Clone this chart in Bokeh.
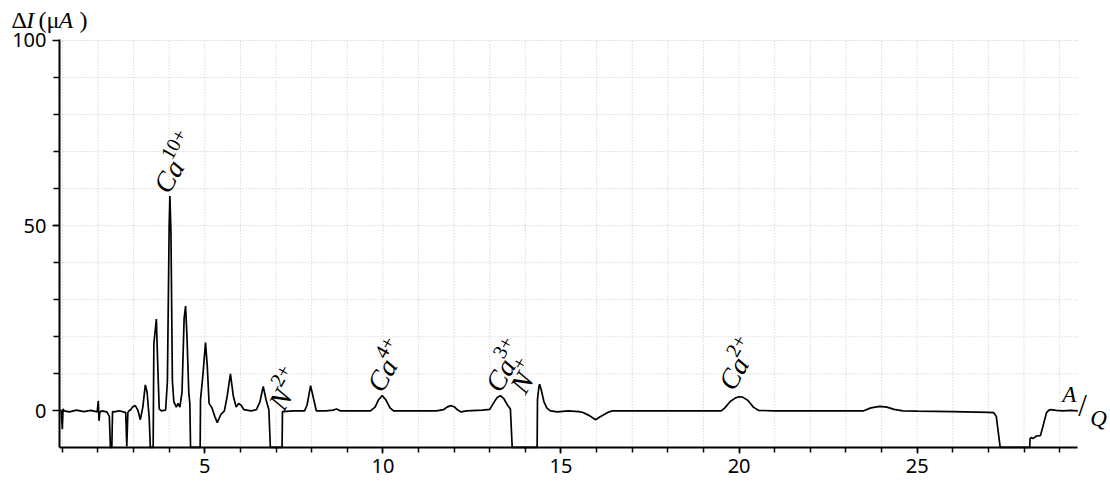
import numpy as np
from bokeh.plotting import figure
from bokeh.models import FixedTicker, Range1d, Label
from bokeh.core.properties import value
from bokeh.embed import file_html
from bokeh.resources import INLINE

# ---- data ----
aq = [
    0.93, 0.97, 1.00, 1.02, 1.05, 1.20, 1.40, 1.60, 1.80, 1.98,
    2.01, 2.03, 2.05, 2.10, 2.25, 2.32, 2.35, 2.39, 2.41, 2.45,
    2.60, 2.78, 2.81, 2.84, 2.87, 2.92, 2.97, 3.05, 3.12, 3.19,
    3.26, 3.33, 3.38, 3.44, 3.47, 3.55, 3.57, 3.64, 3.68, 3.72,
    3.78, 3.90, 3.95, 4.00, 4.02, 4.05, 4.09, 4.13, 4.20, 4.25,
    4.30, 4.36, 4.42, 4.46, 4.50, 4.55, 4.58, 4.60, 4.87, 4.88,
    4.95, 5.02, 5.07, 5.12, 5.20, 5.28, 5.35, 5.45, 5.55, 5.63,
    5.72, 5.80, 5.88, 5.95, 6.02, 6.10, 6.30, 6.45, 6.55, 6.64,
    6.72, 6.80, 6.84, 7.17, 7.18, 7.50, 7.80, 7.87, 7.97, 8.06,
    8.13, 8.40, 8.60, 8.70, 8.80, 9.20, 9.65, 9.78, 9.88, 9.98,
    10.08, 10.20, 10.30, 10.80, 11.50, 11.70, 11.80, 11.90, 12.00, 12.10,
    12.20, 12.35, 12.80, 13.00, 13.10, 13.20, 13.30, 13.40, 13.50, 13.58,
    13.63, 14.33, 14.34, 14.38, 14.40, 14.45, 14.52, 14.60, 14.70, 14.90,
    15.20, 15.50, 15.60, 15.80, 15.97, 16.10, 16.30, 16.45, 16.80, 17.50,
    18.20, 18.90, 19.50, 19.60, 19.75, 19.90, 20.00, 20.10, 20.25, 20.40,
    20.55, 21.00, 22.00, 23.00, 23.50, 23.70, 23.95, 24.15, 24.35, 24.60,
    25.00, 26.00, 27.00, 27.15, 27.22, 27.28, 27.33, 28.16, 28.17, 28.20,
    28.25, 28.35, 28.46, 28.55, 28.63, 28.70, 28.75, 28.90, 29.10, 29.30,
    29.51,
]
di = [
    0.3, 0.0, -5.0, 0.5, 0.0, -0.3, 0.2, -0.2, 0.1, -0.3,
    2.7, -2.7, -0.5, 0.0, -0.3, -1.5, -15, -15, -0.2, -0.3,
    0.0, -0.5, -9.6, -0.5, 0.0, 0.3, 1.0, 1.4, 0.2, -2.4,
    1.0, 7.0, 5.0, -2.0, -15, -15, 18.0, 24.8, 12.0, 0.5,
    0.0, 0.2, 8.0, 50.0, 58.0, 48.0, 8.0, 2.5, 1.0, 2.0,
    1.0, 5.0, 25.0, 28.3, 20.0, 5.0, 2.0, -15, -15, 3.0,
    10.0, 18.4, 12.0, 2.0, 0.8, -1.5, -3.2, -1.0, 0.0, 4.0,
    10.0, 4.0, 1.0, 2.0, 1.5, 0.3, 0.0, 0.3, 2.5, 6.6,
    3.0, 0.2, -15, -15, -0.2, 0.0, 0.0, 1.5, 6.8, 3.0,
    0.0, 0.0, 0.2, 0.5, 0.0, 0.0, 0.0, 1.0, 3.0, 4.1,
    3.0, 0.8, 0.0, 0.0, 0.0, 0.3, 1.0, 1.4, 1.1, 0.2,
    -0.3, 0.0, 0.2, 0.4, 2.0, 3.5, 4.1, 3.2, 1.5, 0.5,
    -15, -15, 3.0, 6.5, 7.2, 5.5, 2.5, 0.8, 0.0, -0.3,
    0.0, -0.2, -0.4, -1.3, -2.4, -1.6, -0.5, 0.0, 0.0, 0.0,
    0.0, 0.0, 0.0, 0.8, 2.5, 3.5, 3.8, 3.7, 2.8, 1.0,
    0.1, 0.0, 0.0, 0.0, 0.0, 0.8, 1.2, 1.0, 0.4, 0.0,
    -0.1, -0.2, -0.4, -0.5, -1.5, -6.0, -15, -15, -7.5, -7.2,
    -7.5, -6.8, -6.7, -3.5, -0.5, 0.2, 0.3, 0.1, 0.0, 0.1,
    0.0,
]

peak_base = ["Ca", "N", "Ca", "Ca", "N", "Ca"]
peak_sup = ["10+", "2+", "4+", "3+", "+", "2+"]
peak_x = [3.76, 6.99, 9.75, 13.07, 13.77, 19.62]
peak_y = [59.5, 0.9, 5.85, 5.85, 5.4, 6.3]

x_major = [5, 10, 15, 20, 25]
x_minor = list(range(1, 30))
y_major = [0, 50, 100]
y_minor = list(range(10, 100, 10))
y_gridlines = list(range(10, 101, 10))

# plot-area limits (axes drawn at these)
X_LO, X_HI = 0.92, 29.51
Y_LO, Y_HI = -9.85, 100.3

# y-axis title pieces (text, style, x position)
ytitle_text = ["\u0394", "I", "(\u03bc", "A", ")"]
ytitle_style = ["normal", "italic", "normal", "italic", "normal"]
ytitle_x = [-0.43, -0.01, 0.33, 0.89, 1.48]
ytitle_y = 105.6

# x-axis title pieces
xtitle_text = ["A", "/", "Q"]
xtitle_style = ["italic", "normal", "italic"]
xtitle_size = ["23px", "31px", "23px"]
xtitle_x = [29.07, 29.52, 29.86]
xtitle_y = [4.4, 1.5, -2.0]

p = figure(width=1108, height=479,
           x_range=Range1d(-0.7356, 30.371), y_range=Range1d(-18.55, 110.80),
           output_backend="svg", toolbar_location=None, min_border=0)
p.outline_line_color = None
p.background_fill_color = "white"
p.border_fill_color = "white"
p.xgrid.visible = False
p.ygrid.visible = False

p.xaxis.ticker = FixedTicker(ticks=x_major, minor_ticks=x_minor)
p.yaxis.ticker = FixedTicker(ticks=y_major, minor_ticks=y_minor)
p.xaxis.fixed_location = Y_LO
p.xaxis.bounds = (X_LO, X_HI)
p.yaxis.fixed_location = X_LO
p.yaxis.bounds = (Y_LO, Y_HI)

for ax in (p.xaxis[0], p.yaxis[0]):
    ax.axis_line_color = "black"
    ax.axis_line_width = 2
    ax.major_tick_line_color = "black"
    ax.minor_tick_line_color = "black"
    ax.major_tick_line_width = 1.5
    ax.minor_tick_line_width = 1.5
    ax.major_tick_in = 0
    ax.minor_tick_in = 0
    ax.major_label_text_font = "Noto Sans"
    ax.major_label_text_font_size = "20px"
    ax.major_label_text_color = "black"

p.xaxis.major_tick_out = 6
p.xaxis.minor_tick_out = 5
p.xaxis.major_label_standoff = 6
p.yaxis.major_tick_out = 7
p.yaxis.minor_tick_out = 6
p.yaxis.major_label_standoff = 6

# dotted grid inside the plot area only
grid_style = dict(line_color="#c8c8c8", line_dash="1 2", line_width=1)
p.segment(x0=x_minor, y0=[Y_LO] * len(x_minor), x1=x_minor, y1=[Y_HI] * len(x_minor),
          **grid_style)
p.segment(x0=[X_LO] * len(y_gridlines), y0=y_gridlines,
          x1=[X_HI] * len(y_gridlines), y1=y_gridlines, **grid_style)

# the trace, cut at the bottom of the plot area
p.line(aq, np.maximum(np.array(di, dtype=float), Y_LO),
       line_color="black", line_width=1.7)

# peak labels: base symbol + superscript, rotated 60 degrees
ang = np.deg2rad(60)
base_w = {"Ca": 31.0, "N": 19.5}
rise = 12.0
sup_dx = [base_w[b] * np.cos(ang) - rise * np.sin(ang) for b in peak_base]
sup_dy = [-base_w[b] * np.sin(ang) - rise * np.cos(ang) for b in peak_base]

p.text(x=peak_x, y=peak_y, text=peak_base, angle=ang,
       text_font=value("Liberation Serif"), text_font_style="italic",
       text_font_size="28px", text_align="left",
       text_baseline="alphabetic", text_color="black")
p.text(x=peak_x, y=peak_y, text=peak_sup, angle=ang,
       x_offset=sup_dx, y_offset=sup_dy,
       text_font=value("Liberation Serif"), text_font_style="normal",
       text_font_size="20px", text_align="left",
       text_baseline="alphabetic", text_color="black")

for t, s, xx in zip(ytitle_text, ytitle_style, ytitle_x):
    p.add_layout(Label(x=xx, y=ytitle_y, text=t, text_font="Liberation Serif",
                       text_font_style=s, text_font_size="24px",
                       text_baseline="alphabetic", text_color="black"))

for t, s, fs, xx, yy in zip(xtitle_text, xtitle_style, xtitle_size, xtitle_x, xtitle_y):
    p.add_layout(Label(x=xx, y=yy, text=t, text_font="Liberation Serif",
                       text_font_style=s, text_font_size=fs,
                       text_baseline="alphabetic", text_color="black"))

open("out.html", "w").write(file_html(p, INLINE))
